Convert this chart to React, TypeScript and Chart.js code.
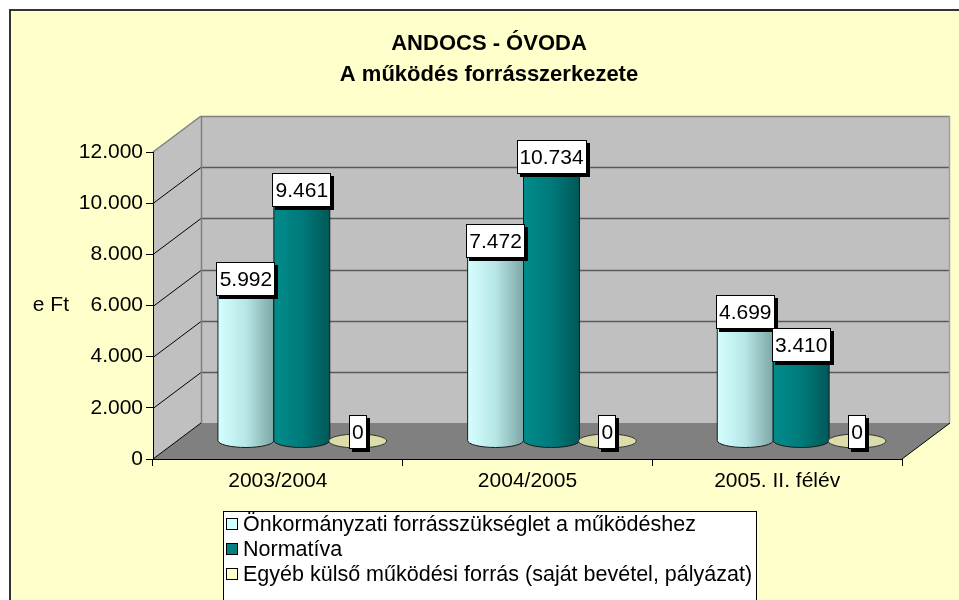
import { useEffect, useRef } from "react";
import { Chart, registerables } from "chart.js";

Chart.register(...registerables);

// ---- data ----
const categories = ["2003/2004", "2004/2005", "2005. II. félév"];
const seriesNames = [
  "Önkormányzati forrásszükséglet a működéshez",
  "Normatíva",
  "Egyéb külső működési forrás (saját bevétel, pályázat)",
];
const onkormanyzati = [5992, 7472, 4699];
const normativa = [9461, 10734, 3410];
const egyeb = [0, 0, 0];
const yMin = 0;
const yMax = 12000;
const yStep = 2000;
const titleLines = ["ANDOCS - ÓVODA", "A működés forrásszerkezete"];
const yAxisTitle = "e Ft";

// ---- styles ----
const FONT = '"Liberation Sans", Arial, sans-serif';
const palette = [
  { stops: ["#D6FFFF", "#B6E6E6", "#7EA6A6"], top: "#E2FFFF", legend: "#CCFFFF" },
  { stops: ["#008C8C", "#007A7A", "#005858"], top: "#009C9C", legend: "#008080" },
  { stops: ["#E6E6B8", "#D8D8A8", "#C4C498"], top: "#DDDDAA", legend: "#FFFFCC" },
];
const DX = 48;
const DY = 36;

function fmt(n: number): string {
  return String(Math.round(n)).replace(/\B(?=(\d{3})+(?!\d))/g, ".");
}

function poly(ctx: CanvasRenderingContext2D, pts: number[][], fill: string | null, stroke: string | null) {
  ctx.beginPath();
  ctx.moveTo(pts[0][0], pts[0][1]);
  for (let i = 1; i < pts.length; i++) ctx.lineTo(pts[i][0], pts[i][1]);
  ctx.closePath();
  if (fill) {
    ctx.fillStyle = fill;
    ctx.fill();
  }
  if (stroke) {
    ctx.strokeStyle = stroke;
    ctx.lineWidth = 1;
    ctx.stroke();
  }
}

function line(ctx: CanvasRenderingContext2D, x1: number, y1: number, x2: number, y2: number, color: string, w = 1) {
  ctx.beginPath();
  ctx.moveTo(x1, y1);
  ctx.lineTo(x2, y2);
  ctx.strokeStyle = color;
  ctx.lineWidth = w;
  ctx.stroke();
}

const threeD = {
  id: "threeD",
  beforeDraw(chart: any) {
    const { ctx, chartArea: a, scales } = chart;
    const ys = scales.y;
    const L = a.left, R = a.right, T = a.top, B = a.bottom;
    ctx.save();
    poly(ctx, [[L, T], [L + DX, T - DY], [L + DX, B - DY], [L, B]], "#C0C0C0", null);
    poly(ctx, [[L + DX, T - DY], [R + DX, T - DY], [R + DX, B - DY], [L + DX, B - DY]], "#C0C0C0", null);
    poly(ctx, [[L, B], [R, B], [R + DX, B - DY], [L + DX, B - DY]], "#808080", null);
    for (const t of ys.ticks) {
      const v = t.value;
      const py = Math.round(ys.getPixelForValue(v)) + 0.5;
      if (v > yMin && v < yMax) {
        line(ctx, L + DX, py - DY, R + DX, py - DY, "#5A5A5A", 1.5);
        line(ctx, L, py, L + DX, py - DY, "#000000", 1);
      }
    }
    line(ctx, L + DX + 0.5, T - DY, L + DX + 0.5, B - DY, "#808080", 1.5);
    line(ctx, L + DX, T - DY + 0.5, R + DX, T - DY + 0.5, "#808080", 1.5);
    line(ctx, R + DX - 0.5, T - DY, R + DX - 0.5, B - DY, "#A0A0A0", 1.5);
    line(ctx, L, T, L + DX, T - DY, "#808080", 1.5);
    line(ctx, L, B, L + DX, B - DY, "#000000", 1);
    line(ctx, R, B, R + DX, B - DY, "#000000", 1);
    ctx.restore();
  },
  beforeDatasetsDraw(chart: any) {
    const { ctx } = chart;
    ctx.save();
    chart.data.datasets.forEach((ds: any, i: number) => {
      const meta = chart.getDatasetMeta(i);
      const p = palette[i];
      meta.data.forEach((el: any, j: number) => {
        const { x, y, base, width } = el.getProps(["x", "y", "base", "width"], true);
        const cx = x + DX / 2;
        const rx = width / 2;
        const top = y - DY / 2;
        const bot = base - DY / 2;
        const ry = 7;
        const v = ds.data[j];
        if (v === 0) {
          ctx.beginPath();
          ctx.ellipse(cx, bot, rx + 1, ry, 0, 0, Math.PI * 2);
          ctx.fillStyle = p.top;
          ctx.fill();
          ctx.strokeStyle = "#333";
          ctx.lineWidth = 1;
          ctx.stroke();
          return;
        }
        const g = ctx.createLinearGradient(cx - rx, 0, cx + rx, 0);
        g.addColorStop(0, p.stops[0]);
        g.addColorStop(0.5, p.stops[1]);
        g.addColorStop(1, p.stops[2]);
        ctx.beginPath();
        ctx.moveTo(cx - rx, top);
        ctx.lineTo(cx - rx, bot);
        ctx.ellipse(cx, bot, rx, ry, 0, Math.PI, 0, true);
        ctx.lineTo(cx + rx, top);
        ctx.ellipse(cx, top, rx, ry, 0, 0, Math.PI, true);
        ctx.closePath();
        ctx.fillStyle = g;
        ctx.fill();
        ctx.strokeStyle = "#1A1A1A";
        ctx.lineWidth = 1;
        ctx.stroke();
        ctx.beginPath();
        ctx.ellipse(cx, top, rx, ry, 0, 0, Math.PI * 2);
        ctx.fillStyle = p.top;
        ctx.fill();
        ctx.stroke();
      });
    });
    ctx.restore();
  },
  afterDatasetsDraw(chart: any) {
    const { ctx } = chart;
    ctx.save();
    ctx.font = `21px ${FONT}`;
    ctx.textAlign = "center";
    ctx.textBaseline = "middle";
    chart.data.datasets.forEach((ds: any, i: number) => {
      const meta = chart.getDatasetMeta(i);
      meta.data.forEach((el: any, j: number) => {
        const { x, y } = el.getProps(["x", "y"], true);
        const cx = x + DX / 2;
        const cy = y - DY / 2 - 9;
        const txt = fmt(ds.data[j]);
        const w = Math.round(ctx.measureText(txt).width) + 6;
        const h = 34;
        const bx = Math.round(cx - w / 2);
        const by = Math.round(cy - h / 2);
        ctx.fillStyle = "#000";
        ctx.fillRect(bx + 3, by + 3, w, h);
        ctx.fillStyle = "#FFF";
        ctx.fillRect(bx, by, w, h);
        ctx.strokeStyle = "#000";
        ctx.lineWidth = 1;
        ctx.strokeRect(bx + 0.5, by + 0.5, w - 1, h - 1);
        ctx.fillStyle = "#000";
        ctx.fillText(txt, cx, cy + 1);
      });
    });
    ctx.restore();
  },
  afterDraw(chart: any) {
    const { ctx, scales } = chart;
    ctx.save();
    ctx.fillStyle = "#000";
    ctx.font = `bold 22px ${FONT}`;
    ctx.textAlign = "center";
    ctx.textBaseline = "middle";
    ctx.fillText(titleLines[0], 489, 44);
    ctx.fillText(titleLines[1], 489, 75);
    ctx.font = `21px ${FONT}`;
    ctx.textAlign = "right";
    ctx.fillText(yAxisTitle, 69, scales.y.getPixelForValue((yMin + yMax) / 2));
    const lx = 223, ly = 511, lw = 534, lh = 92;
    ctx.fillStyle = "#FFFFFF";
    ctx.fillRect(lx, ly, lw, lh);
    ctx.strokeStyle = "#000";
    ctx.lineWidth = 1;
    ctx.strokeRect(lx + 0.5, ly + 0.5, lw - 1, lh - 1);
    ctx.textAlign = "left";
    ctx.font = `21.5px ${FONT}`;
    seriesNames.forEach((name, i) => {
      const cy = 524 + i * 25;
      ctx.fillStyle = palette[i].legend;
      ctx.fillRect(226, cy - 6, 12, 12);
      ctx.strokeStyle = "#000";
      ctx.strokeRect(226.5, cy - 5.5, 11, 11);
      ctx.fillStyle = "#000";
      ctx.fillText(name, 243, cy + 1);
    });
    ctx.restore();
  },
};

export default function App() {
  const ref = useRef<HTMLCanvasElement | null>(null);
  useEffect(() => {
    if (!ref.current) return;
    const chart = new Chart(ref.current, {
      type: "bar",
      data: {
        labels: categories,
        datasets: [
          { label: seriesNames[0], data: onkormanyzati },
          { label: seriesNames[1], data: normativa },
          { label: seriesNames[2], data: egyeb },
        ].map((d) => ({
          ...d,
          backgroundColor: "rgba(0,0,0,0)",
          borderWidth: 0,
          barPercentage: 1,
          categoryPercentage: 0.672,
        })),
      },
      options: {
        responsive: false,
        animation: false,
        events: [],
        layout: { padding: { left: 0, top: 152, right: 57, bottom: 0 } },
        plugins: {
          legend: { display: false },
          title: { display: false },
          tooltip: { enabled: false },
        },
        scales: {
          x: {
            type: "category",
            grid: { display: true, drawOnChartArea: false, drawTicks: true, tickLength: 7, color: "#000", offset: true },
            border: { display: true, color: "#000" },
            ticks: { color: "#000", font: { family: FONT, size: 21 }, padding: 3, maxRotation: 0, autoSkip: false },
            afterFit: (s: any) => {
              s.height = 141;
            },
          },
          y: {
            min: yMin,
            max: yMax,
            grid: { display: true, drawOnChartArea: false, drawTicks: true, tickLength: 7, color: "#000" },
            border: { display: true, color: "#000" },
            ticks: {
              stepSize: yStep,
              color: "#000",
              font: { family: FONT, size: 21 },
              padding: 3,
              callback: (v: any) => fmt(Number(v)),
            },
            afterFit: (s: any) => {
              s.width = 153;
            },
          },
        },
      },
      plugins: [threeD],
    });
    return () => chart.destroy();
  }, []);

  return (
    <div style={{ position: "absolute", left: 0, top: 0, width: 959, height: 600, overflow: "hidden", background: "#FFFFFF" }}>
      <div
        style={{
          position: "absolute",
          left: 9,
          top: 9,
          width: 1000,
          height: 700,
          background: "#FFFFCC",
          border: "2px solid #333333",
        }}
      />
      <canvas ref={ref} width={959} height={600} style={{ position: "absolute", left: 0, top: 0, display: "block" }} />
    </div>
  );
}
